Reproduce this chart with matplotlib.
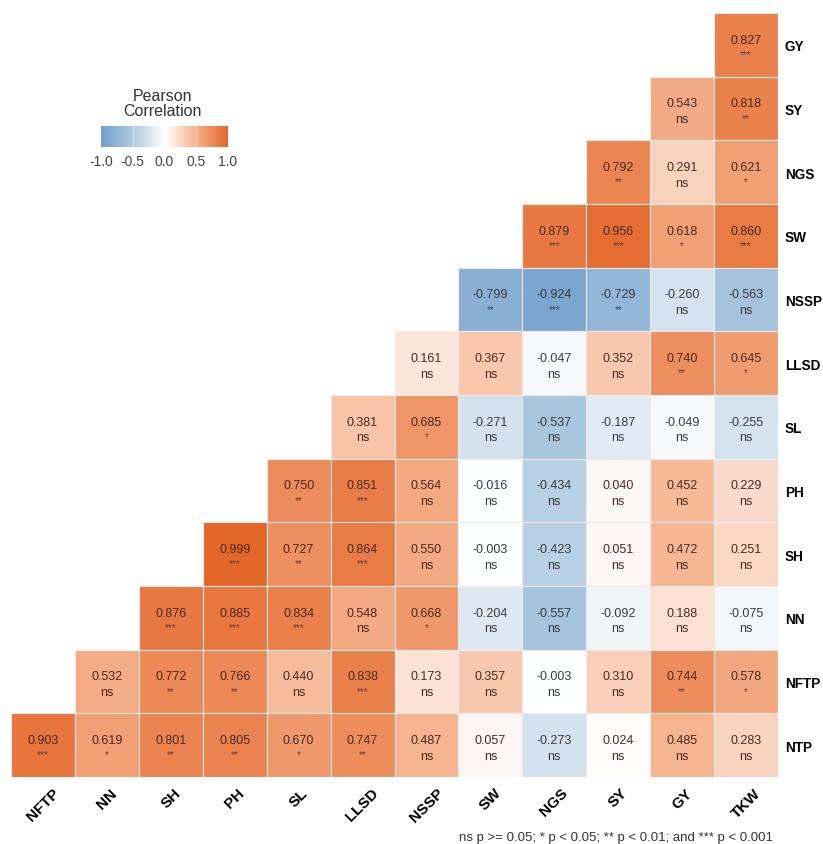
import numpy as np
import matplotlib
matplotlib.use("Agg")
import matplotlib.pyplot as plt
from matplotlib.colors import LinearSegmentedColormap, Normalize
from matplotlib.patches import Rectangle

plt.rcParams["font.family"] = ["Liberation Sans", "DejaVu Sans"]

# trait order along the x axis (left -> right) and y axis (top -> bottom)
COLS = ["NFTP", "NN", "SH", "PH", "SL", "LLSD", "NSSP", "SW", "NGS", "SY", "GY", "TKW"]
ROWS = ["GY", "SY", "NGS", "SW", "NSSP", "LLSD", "SL", "PH", "SH", "NN", "NFTP", "NTP"]

# Pearson r per row; each row fills the right-most columns
R_GY = [0.827]
R_SY = [0.543, 0.818]
R_NGS = [0.792, 0.291, 0.621]
R_SW = [0.879, 0.956, 0.618, 0.860]
R_NSSP = [-0.799, -0.924, -0.729, -0.260, -0.563]
R_LLSD = [0.161, 0.367, -0.047, 0.352, 0.740, 0.645]
R_SL = [0.381, 0.685, -0.271, -0.537, -0.187, -0.049, -0.255]
R_PH = [0.750, 0.851, 0.564, -0.016, -0.434, 0.040, 0.452, 0.229]
R_SH = [0.999, 0.727, 0.864, 0.550, -0.003, -0.423, 0.051, 0.472, 0.251]
R_NN = [0.876, 0.885, 0.834, 0.548, 0.668, -0.204, -0.557, -0.092, 0.188, -0.075]
R_NFTP = [0.532, 0.772, 0.766, 0.440, 0.838, 0.173, 0.357, -0.003, 0.310, 0.744, 0.578]
R_NTP = [0.903, 0.619, 0.801, 0.805, 0.670, 0.747, 0.487, 0.057, -0.273, 0.024, 0.485, 0.283]

S_GY = ["***"]
S_SY = ["ns", "**"]
S_NGS = ["**", "ns", "*"]
S_SW = ["***", "***", "*", "***"]
S_NSSP = ["**", "***", "**", "ns", "ns"]
S_LLSD = ["ns", "ns", "ns", "ns", "**", "*"]
S_SL = ["ns", "*", "ns", "ns", "ns", "ns", "ns"]
S_PH = ["**", "***", "ns", "ns", "ns", "ns", "ns", "ns"]
S_SH = ["***", "**", "***", "ns", "ns", "ns", "ns", "ns", "ns"]
S_NN = ["***", "***", "***", "ns", "*", "ns", "ns", "ns", "ns", "ns"]
S_NFTP = ["ns", "**", "**", "ns", "***", "ns", "ns", "ns", "ns", "**", "*"]
S_NTP = ["***", "*", "**", "**", "*", "**", "ns", "ns", "ns", "ns", "ns", "ns"]

R_ROWS = [R_GY, R_SY, R_NGS, R_SW, R_NSSP, R_LLSD, R_SL, R_PH, R_SH, R_NN, R_NFTP, R_NTP]
S_ROWS = [S_GY, S_SY, S_NGS, S_SW, S_NSSP, S_LLSD, S_SL, S_PH, S_SH, S_NN, S_NFTP, S_NTP]

n = len(COLS)

cmap = LinearSegmentedColormap.from_list(
    "rb", ["#72a0cc", "#adc9e0", "#ffffff", "#f5b28e", "#e4672a"])
norm = Normalize(-1, 1)

W, H = 823, 845
fig = plt.figure(figsize=(W / 100, H / 100), dpi=100)
ax = fig.add_axes([11 / W, (H - 778) / H, 767 / W, 764 / H])
ax.set_xlim(0, n)
ax.set_ylim(n, 0)

for i, (vals, sigs) in enumerate(zip(R_ROWS, S_ROWS)):
    start = n - len(vals)
    for k, (v, s) in enumerate(zip(vals, sigs)):
        j = start + k
        ax.add_patch(Rectangle((j, i), 1, 1, facecolor=cmap(norm(v)),
                               edgecolor="#f1e9e5", linewidth=0.8))
        x = j + 0.5
        tc = "#3a3a3a" if v < 0 else "#4a2a22"
        ax.text(x, i + 0.42, f"{v:.3f}", ha="center", va="center",
                fontsize=9, color=tc)
        if s == "ns":
            ax.text(x, i + 0.665, s, ha="center", va="center",
                    fontsize=9, color=tc)
        else:
            ax.text(x, i + 0.645, s, ha="center", va="center",
                    fontsize=7, color="#6a3a30" if v > 0 else "#3a4a5a")

ax.set_xticks(np.arange(n) + 0.5)
ax.set_xticklabels(COLS, rotation=45, ha="center", va="top",
                   fontsize=11, fontweight="bold")
ax.set_yticks(np.arange(n) + 0.5)
ax.set_yticklabels(ROWS, fontsize=9.8, fontweight="bold")
ax.yaxis.tick_right()
ax.tick_params(length=0)
ax.tick_params(axis="y", pad=5)
ax.tick_params(axis="x", pad=6)
for sp in ax.spines.values():
    sp.set_visible(False)

# colour key
cax = fig.add_axes([101 / W, (H - 148) / H, 127 / W, 21 / H])
grad = np.linspace(-1, 1, 256).reshape(1, -1)
cax.imshow(grad, aspect="auto", cmap=cmap, norm=norm, extent=(-1, 1, 0, 1))
for t in (-0.5, 0.5):
    cax.axvline(t, color="white", lw=0.8, alpha=0.5)
cax.set_xticks([-1, -0.5, 0, 0.5, 1])
cax.set_xticklabels(["-1.0", "-0.5", "0.0", "0.5", "1.0"], fontsize=10,
                    color="#444444")
cax.set_yticks([])
cax.tick_params(length=0, pad=5)
for sp in cax.spines.values():
    sp.set_visible(False)
fig.text(162 / W, 1 - 104 / H, "Pearson\nCorrelation", ha="center",
         va="center", fontsize=11.5, color="#333333", linespacing=1.05)

fig.text(616 / W, 1 - 838 / H,
         "ns p >= 0.05; * p < 0.05; ** p < 0.01; and *** p < 0.001",
         ha="center", va="center", fontsize=9.5, color="#333333")

fig.savefig("out.png", dpi=100)
